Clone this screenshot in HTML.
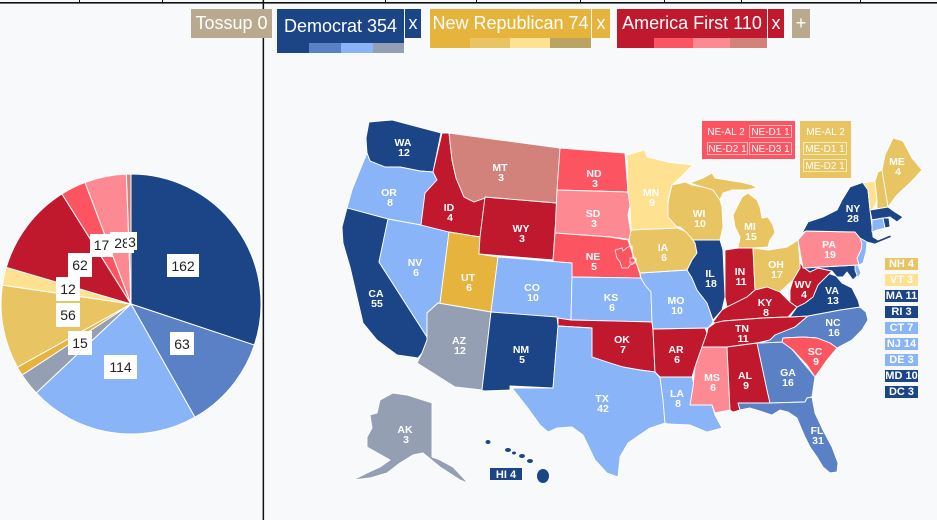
<!DOCTYPE html>
<html><head><meta charset="utf-8">
<style>
body{margin:0;width:937px;height:520px;overflow:hidden;background:#f8f9fa;position:relative;font-family:"Liberation Sans",sans-serif}
.b{position:absolute;color:#fff;font-size:18px;text-align:center;top:9px;height:29px;line-height:29px;white-space:nowrap}
.bar{position:absolute;height:10px}
.lg{position:absolute;left:885px;width:33px;height:12px;line-height:12px;font-size:11px;font-weight:bold;color:#fff;text-align:center}
svg text{font-family:"Liberation Sans",sans-serif}
.m polygon{stroke:#fff;stroke-width:0.9;stroke-linejoin:round}
.lb text{fill:#fff;font-size:10.5px;font-weight:bold;text-anchor:middle}
.pl text{fill:#222;font-size:14px;text-anchor:middle}
</style></head><body>
<svg width="937" height="520" style="position:absolute;left:0;top:0">
<rect x="0" y="2" width="937" height="1.6" fill="#111"/>
<g fill="#111">
<rect x="79" y="0" width="1" height="3"/><rect x="162" y="0" width="1" height="3"/><rect x="385" y="0" width="1" height="3"/><rect x="476" y="0" width="1" height="3"/><rect x="580" y="0" width="1" height="3"/><rect x="664" y="0" width="1" height="3"/><rect x="741" y="0" width="1" height="3"/><rect x="860" y="0" width="1" height="3"/>
</g>
<rect x="262.6" y="0" width="1.5" height="520" fill="#111"/>

<g stroke="#fff" stroke-width="1">
<path d="M131,304 L131,174 A130,130 0 0 1 254.36,345.04 Z" fill="#1c4587"/>
<path d="M131,304 L254.36,345.04 A130,130 0 0 1 194.9,417.2 Z" fill="#5a80c6"/>
<path d="M131,304 L194.9,417.2 A130,130 0 0 1 36.2,392.9 Z" fill="#8ab4f8"/>
<path d="M131,304 L36.2,392.9 A130,130 0 0 1 22.1,375.0 Z" fill="#959fb4"/>
<path d="M131,304 L22.1,375.0 A130,130 0 0 1 17.4,367.2 Z" fill="#e6b43c"/>
<path d="M131,304 L17.4,367.2 A130,130 0 0 1 2.4,285.1 Z" fill="#e8c562"/>
<path d="M131,304 L2.4,285.1 A130,130 0 0 1 6.3,267.3 Z" fill="#fee291"/>
<path d="M131,304 L6.3,267.3 A130,130 0 0 1 61.9,193.9 Z" fill="#c0182d"/>
<path d="M131,304 L61.9,193.9 A130,130 0 0 1 85.0,182.4 Z" fill="#fd5461"/>
<path d="M131,304 L85.0,182.4 A130,130 0 0 1 126.4,174.1 Z" fill="#fd8a93"/>
<path d="M131,304 L126.4,174.1 A130,130 0 0 1 131,174 Z" fill="#d3827b"/>
</g>
<g class="pl">
<rect x="167" y="254" width="32" height="23" fill="#fff"/><text x="183" y="271">162</text>
<rect x="170" y="332" width="24" height="23" fill="#fff"/><text x="182" y="349">63</text>
<rect x="104" y="355" width="33" height="24" fill="#fff"/><text x="120.5" y="372">114</text>
<rect x="68" y="331" width="24" height="24" fill="#fff"/><text x="80" y="348">15</text>
<rect x="56" y="303" width="24" height="24" fill="#fff"/><text x="68" y="320">56</text>
<rect x="56" y="277" width="24" height="24" fill="#fff"/><text x="68" y="294">12</text>
<rect x="68" y="253" width="24" height="24" fill="#fff"/><text x="80" y="270">62</text>
<rect x="90" y="234" width="23" height="23" fill="#fff"/><text x="101.5" y="250">17</text>
<rect x="110" y="232" width="24" height="21" fill="#fff"/><text x="122" y="248">28</text>
<rect x="127" y="232" width="10" height="18" fill="#fff"/><text x="132" y="247">3</text>
</g>

<g class="m">
<polygon fill="#1c4587" points="369,122 380,121 392,120 441,133 433,172 420,171 400,167 385,167 370,161 367,153 366,138"/>
<polygon fill="#8ab4f8" points="367,153 370,161 385,167 400,167 420,171 433,172 437,180 425,193 421,225 388,219 347,208 352,190 360,170"/>
<polygon fill="#1c4587" points="347,208 388,219 379,262 427,337 427,340 422,353 418,358 397,355 377,340 363,323 357,297 350,267 343,243 342,227"/>
<polygon fill="#8ab4f8" points="388,219 421,225 449,232 440,303 438,303 427,313 427,337 379,262"/>
<polygon fill="#c0182d" points="442,133 449,133 452,160 456,178 464,197 474,202 485,198 480,237 449,232 421,225 425,193 437,180 433,172"/>
<polygon fill="#e6b43c" points="449,232 480,237 479,254 498,257 491,312 438,303 440,303"/>
<polygon fill="#c0182d" points="485,197 557,203 553,260 479,254 480,237"/>
<polygon fill="#d3827b" points="449,133 500,140 560,148 557,203 485,197 485,198 474,202 464,197 456,178 452,160"/>
<polygon fill="#fd5461" points="560,148 625,153 628,192 557,190"/>
<polygon fill="#fd8a93" points="557,190 628,192 630,205 628,215 632,240 620,238 610,237 555,233"/>
<polygon fill="#fd5461" points="555,233 610,237 628,240 633,255 637,265 641,278 572,277 572,263 553,262"/>
<polygon fill="#8ab4f8" points="498,257 572,263 572,277 571,320 491,312"/>
<polygon fill="#8ab4f8" points="572,277 641,278 645,285 651,292 652,322 571,320"/>
<polygon fill="#959fb4" points="427,313 438,303 491,312 482,390 455,387 417,363 422,353 427,340"/>
<polygon fill="#1c4587" points="491,312 557,317 558,326 553,388 510,386 510,390 484,391 482,390"/>
<polygon fill="#c0182d" points="558,318 571,320 652,322 653,330 655,372 640,370 623,367 610,363 592,357 592,328 558,326"/>
<polygon fill="#8ab4f8" points="558,326 592,328 592,357 610,363 623,367 640,370 655,372 660,378 663,400 665,423 650,428 628,443 620,457 618,477 607,473 595,460 583,435 572,427 557,428 548,432 540,425 527,407 512,388 553,388"/>
<polygon fill="#c0182d" points="653,329 705,328 707,333 702,347 695,367 692,377 660,377 655,372"/>
<polygon fill="#8ab4f8" points="660,377 692,377 695,388 690,405 712,405 715,415 722,428 707,432 690,425 668,424 665,423 663,400"/>
<polygon fill="#8ab4f8" points="640,273 687,270 692,278 697,290 707,303 712,318 713,322 708,328 705,328 653,329 652,322 651,292 645,285 641,278"/>
<polygon fill="#e8c562" points="631,230 677,228 687,232 695,243 697,253 692,260 687,270 640,273 637,265 633,255 629,240"/>
<polygon fill="#fee291" points="627,155 645,150 647,157 667,162 693,165 680,178 672,185 668,200 668,217 677,227 677,228 631,230 630,205 628,192"/>
<polygon fill="#e8c562" points="672,185 685,182 692,185 703,187 713,190 720,200 722,207 723,227 720,240 693,240 687,233 680,227 677,227 668,217 668,203 670,193"/>
<polygon fill="#e8c562" points="690,183 703,178 712,173 715,178 727,180 740,182 752,185 757,188 747,190 732,190 723,193 720,200 713,190 703,187"/>
<polygon fill="#e8c562" points="737,207 742,197 748,193 757,200 760,207 762,218 768,217 773,225 775,233 770,240 768,247 753,248 738,248 740,237 735,227 733,215"/>
<polygon fill="#1c4587" points="693,240 720,240 723,250 725,297 722,310 713,320 707,303 697,290 692,278 687,270 692,260 697,253 695,243"/>
<polygon fill="#c0182d" points="725,250 738,248 753,248 755,290 747,297 727,307 725,297"/>
<polygon fill="#e8c562" points="753,248 768,250 787,247 798,240 800,262 800,268 793,280 780,292 767,287 755,290"/>
<polygon fill="#c0182d" points="713,322 722,310 727,307 747,297 755,290 767,287 780,292 790,302 797,307 788,317 763,318 723,321 715,323"/>
<polygon fill="#c0182d" points="715,323 723,321 763,318 788,317 808,316 795,327 775,335 770,340 757,343 727,347 702,347 707,333 708,328"/>
<polygon fill="#fd8a93" points="702,347 727,347 730,410 715,413 712,405 690,405 693,387 695,367"/>
<polygon fill="#c0182d" points="727,347 757,343 767,390 770,403 738,403 740,410 733,412 730,410"/>
<polygon fill="#5a80c6" points="757,343 782,342 790,347 815,377 812,397 807,398 805,402 770,403 767,390"/>
<polygon fill="#5a80c6" points="738,403 770,403 805,402 807,398 812,397 815,413 823,430 832,447 838,463 837,472 830,473 823,467 817,457 810,447 805,437 802,430 797,418 788,412 780,410 772,415 763,412 750,408 740,410"/>
<polygon fill="#5a80c6" points="760,343 770,340 775,335 795,327 808,316 840,310 860,307 866,312 868,320 862,330 852,340 837,348 830,343 817,338 803,337 783,338 782,342"/>
<polygon fill="#fd5461" points="783,338 803,337 817,338 830,343 837,348 827,360 820,370 815,377 807,365 793,350 782,342"/>
<polygon fill="#1c4587" points="790,317 797,307 805,303 813,297 818,285 827,273 836,276 842,283 852,288 858,300 860,307 840,310 808,316"/>
<polygon fill="#c0182d" points="800,262 803,267 810,272 818,268 832,271 825,278 818,285 813,297 805,303 797,307 790,302 790,290 793,280 800,268"/>
<polygon fill="#1c4587" points="803,268 858,265 858,275 853,280 847,272 843,277 837,277 832,271 818,268 810,272 803,267"/>
<polygon fill="#8ab4f8" points="855,265 858,265 861,273 858,278 855,270"/>
<polygon fill="#fd8a93" points="798,240 806,231 855,232 860,238 865,243 862,257 858,265 803,268"/>
<polygon fill="#8ab4f8" points="860,238 867,242 866,252 863,263 859,265 857,258 861,250 862,244"/>
<polygon fill="#1c4587" points="802,233 808,222 823,217 837,210 842,200 850,187 864,182 868,190 870,210 872,227 873,237 878,240 890,235 892,237 875,244 867,242 860,238 855,232 806,231"/>
<polygon fill="#fee291" points="863,183 875,181 877,200 873,210 870,210 868,190"/>
<polygon fill="#e8c562" points="875,181 878,172 882,170 890,200 888,207 877,210 877,200"/>
<polygon fill="#e8c562" points="882,170 885,155 893,138 903,141 912,158 922,170 910,183 897,195 888,207"/>
<polygon fill="#1c4587" points="870,210 888,207 895,212 903,217 897,222 890,217 872,220"/>
<polygon fill="#8ab4f8" points="872,220 883,218 885,228 877,230 872,232"/>
<polygon fill="#1c4587" points="883,218 889,218 890,227 885,228"/>
<polygon fill="#959fb4" points="380,400 393,393 407,395 432,403 432,457 440,460 453,467 468,483 460,480 440,467 423,453 413,455 400,463 387,473 370,478 353,480 367,473 380,467 390,460 367,447 367,437 372,428 370,415 377,413"/>
</g>
<polyline points="615,250 622,248 623,251 628,247 632,246 633,258 636,260 633,264 630,265 628,268 622,268 620,262 617,258 615,250" fill="none" stroke="#fff" stroke-width="0.8"/>
<rect x="630" y="258" width="6" height="5" fill="none" stroke="#fff" stroke-width="0.7"/>
<g fill="#1c4587">
<ellipse cx="488" cy="442" rx="2.5" ry="2"/><ellipse cx="508" cy="450" rx="3" ry="2"/><ellipse cx="514" cy="453" rx="2" ry="1.5"/><ellipse cx="522" cy="456" rx="3" ry="2"/><ellipse cx="530" cy="461" rx="3" ry="2"/><ellipse cx="543" cy="476" rx="6" ry="7"/>
</g>
<rect x="490" y="468" width="32" height="12" fill="#1c4587"/>
<text x="506" y="478" fill="#fff" font-size="11" font-weight="bold" text-anchor="middle">HI 4</text>

<rect x="702" y="121" width="93" height="38" fill="#fd5461"/>
<rect x="749.5" y="125.5" width="42" height="12" fill="none" stroke="#ffd0d4" stroke-width="0.8"/>
<rect x="707.5" y="142.5" width="40" height="12" fill="none" stroke="#ffd0d4" stroke-width="0.8"/>
<rect x="749.5" y="142.5" width="42" height="12" fill="none" stroke="#ffd0d4" stroke-width="0.8"/>
<g fill="#fff" font-size="10" text-anchor="middle">
<text x="726" y="135">NE-AL 2</text><text x="770.5" y="135">NE-D1 1</text><text x="727.5" y="152">NE-D2 1</text><text x="770.5" y="152">NE-D3 1</text>
</g>
<rect x="800" y="121" width="51" height="57" fill="#e8c562"/>
<rect x="803.5" y="142.5" width="43" height="12" fill="none" stroke="#fff3c8" stroke-width="0.8"/>
<rect x="803.5" y="159.5" width="43" height="12" fill="none" stroke="#fff3c8" stroke-width="0.8"/>
<g fill="#fff" font-size="10" text-anchor="middle">
<text x="825.5" y="135">ME-AL 2</text><text x="825" y="152">ME-D1 1</text><text x="825" y="169">ME-D2 1</text>
</g>

<g class="lb">
<text x="403" y="146">WA</text><text x="404" y="156">12</text>
<text x="389" y="196">OR</text><text x="390" y="206">8</text>
<text x="376" y="297">CA</text><text x="377" y="307">55</text>
<text x="415" y="266">NV</text><text x="416" y="276">6</text>
<text x="449" y="211">ID</text><text x="450" y="221">4</text>
<text x="500" y="171">MT</text><text x="501" y="181">3</text>
<text x="521" y="232">WY</text><text x="522" y="242">3</text>
<text x="468" y="281">UT</text><text x="469" y="291">6</text>
<text x="532" y="291">CO</text><text x="533" y="301">10</text>
<text x="459" y="344">AZ</text><text x="460" y="354">12</text>
<text x="521" y="353">NM</text><text x="522" y="363">5</text>
<text x="594" y="177">ND</text><text x="595" y="187">3</text>
<text x="593" y="217">SD</text><text x="594" y="227">3</text>
<text x="593" y="260">NE</text><text x="594" y="270">5</text>
<text x="611" y="301">KS</text><text x="612" y="311">6</text>
<text x="622" y="343">OK</text><text x="623" y="353">7</text>
<text x="602" y="402">TX</text><text x="603" y="412">42</text>
<text x="651" y="196">MN</text><text x="652" y="206">9</text>
<text x="663" y="251">IA</text><text x="664" y="261">6</text>
<text x="676" y="304">MO</text><text x="677" y="314">10</text>
<text x="676" y="353">AR</text><text x="677" y="363">6</text>
<text x="677" y="397">LA</text><text x="678" y="407">8</text>
<text x="699" y="217">WI</text><text x="700" y="227">10</text>
<text x="710" y="277">IL</text><text x="711" y="287">18</text>
<text x="750" y="230">MI</text><text x="751" y="240">15</text>
<text x="740" y="275">IN</text><text x="741" y="285">11</text>
<text x="776" y="268">OH</text><text x="777" y="278">17</text>
<text x="765" y="306">KY</text><text x="766" y="316">8</text>
<text x="742" y="332">TN</text><text x="743" y="342">11</text>
<text x="712" y="381">MS</text><text x="713" y="391">6</text>
<text x="745" y="379">AL</text><text x="746" y="389">9</text>
<text x="788" y="376">GA</text><text x="788" y="386">16</text>
<text x="815" y="355">SC</text><text x="816" y="365">9</text>
<text x="833" y="326">NC</text><text x="834" y="336">16</text>
<text x="832" y="294">VA</text><text x="833" y="304">13</text>
<text x="803" y="288">WV</text><text x="804" y="298">4</text>
<text x="829" y="248">PA</text><text x="830" y="258">19</text>
<text x="853" y="212">NY</text><text x="853" y="222">28</text>
<text x="897" y="165">ME</text><text x="898" y="175">4</text>
<text x="817" y="434">FL</text><text x="818" y="444">31</text>
<text x="405" y="433">AK</text><text x="406" y="443">3</text>
</g>
</svg>

<div class="lg" style="top:258px;background:#e8c562">NH 4</div>
<div class="lg" style="top:274px;background:#fee291">VT 3</div>
<div class="lg" style="top:290px;background:#1c4587">MA 11</div>
<div class="lg" style="top:306px;background:#1c4587">RI 3</div>
<div class="lg" style="top:322px;background:#8ab4f8">CT 7</div>
<div class="lg" style="top:338px;background:#8ab4f8">NJ 14</div>
<div class="lg" style="top:354px;background:#8ab4f8">DE 3</div>
<div class="lg" style="top:370px;background:#1c4587">MD 10</div>
<div class="lg" style="top:386px;background:#1c4587">DC 3</div>

<div class="b" style="left:191px;width:81px;background:#b9a98f">Tossup 0</div>
<div class="b" style="left:277px;width:127px;height:34px;line-height:34px;background:#1c4587">Democrat 354</div>
<div class="bar" style="left:277px;top:43px;width:32px;background:#1c4587"></div>
<div class="bar" style="left:309px;top:43px;width:32px;background:#5a80c6"></div>
<div class="bar" style="left:341px;top:43px;width:32px;background:#8ab4f8"></div>
<div class="bar" style="left:373px;top:43px;width:31px;background:#959fb4"></div>
<div class="b" style="left:405px;width:16px;background:#1c4587">x</div>
<div class="b" style="left:430px;width:161px;background:#e6b43c">New Republican 74</div>
<div class="bar" style="left:430px;top:38px;width:40px;background:#e6b43c"></div>
<div class="bar" style="left:470px;top:38px;width:40px;background:#e8c562"></div>
<div class="bar" style="left:510px;top:38px;width:40px;background:#fee291"></div>
<div class="bar" style="left:550px;top:38px;width:41px;background:#bba45f"></div>
<div class="b" style="left:592px;width:18px;background:#e6b43c">x</div>
<div class="b" style="left:617px;width:150px;background:#c0182d">America First 110</div>
<div class="bar" style="left:617px;top:38px;width:37px;background:#c0182d"></div>
<div class="bar" style="left:654px;top:38px;width:39px;background:#fd5461"></div>
<div class="bar" style="left:693px;top:38px;width:37px;background:#fd8a93"></div>
<div class="bar" style="left:730px;top:38px;width:37px;background:#d3827b"></div>
<div class="b" style="left:768px;width:16px;background:#c0182d">x</div>
<div class="b" style="left:792px;width:18px;background:#b9a98f">+</div>
</body></html>
